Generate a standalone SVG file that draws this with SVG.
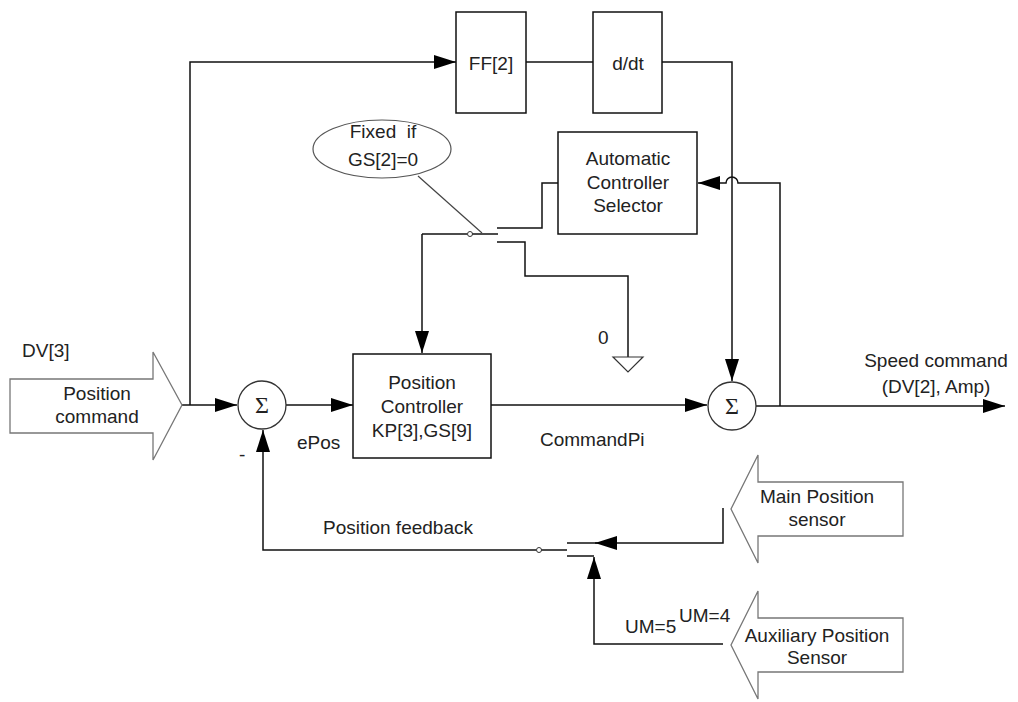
<svg xmlns="http://www.w3.org/2000/svg" width="1018" height="702" viewBox="0 0 1018 702">
<defs>
<style>
.box{fill:#fff;stroke:#111;stroke-width:1.5}
.big{fill:#fff;stroke:#777;stroke-width:1.3}
.ln{fill:none;stroke:#111;stroke-width:1.5}
.thin{fill:none;stroke:#444;stroke-width:1.2}
.t{font-family:"Liberation Sans",Arial,sans-serif;font-size:19px;fill:#222}
.m{text-anchor:middle}
.sig{font-family:"Liberation Serif","DejaVu Serif",serif;font-size:24px;fill:#222;text-anchor:middle}
</style>
<marker id="ah" markerUnits="userSpaceOnUse" markerWidth="22" markerHeight="14" refX="22" refY="7" orient="auto">
<path d="M0,0 L22,7 L0,14 Z" fill="#000"/>
</marker>
</defs>
<rect width="1018" height="702" fill="#fff"/>

<g id="connectors">
<path class="ln" d="M182,405 H237" marker-end="url(#ah)"/>
<path class="ln" d="M190,405 V62 H456" marker-end="url(#ah)"/>
<path class="ln" d="M526,62 H593"/>
<path class="ln" d="M662,62 H732 V381" marker-end="url(#ah)"/>
<path class="ln" d="M286,405 H353" marker-end="url(#ah)"/>
<path class="ln" d="M491,405 H707" marker-end="url(#ah)"/>
<path class="ln" d="M756,406 H1005" marker-end="url(#ah)"/>
<path class="ln" d="M780,406 V183 H738 A6,6 0 0 0 726,183 H698" marker-end="url(#ah)"/>
<path class="ln" d="M558,183 H542 V228 H497"/>
<path class="ln" d="M422,234 V353" marker-end="url(#ah)"/>
<path class="ln" d="M422,234 H467.5"/>
<circle cx="470" cy="234" r="2.5" fill="#fff" stroke="#333" stroke-width="1"/>
<path class="ln" d="M472.5,234 H498"/>
<path class="ln" d="M497,242 H525 V276 H628 V357"/>
<path d="M613,357 H643 L628,372 Z" fill="#fff" stroke="#333" stroke-width="1.2"/>
<path class="thin" d="M418,176 L482,233"/>
<path class="ln" d="M536.5,550 H263 V430" marker-end="url(#ah)"/>
<circle cx="539" cy="550" r="2.5" fill="#fff" stroke="#333" stroke-width="1"/>
<path class="ln" d="M541.5,550 H567"/>
<path class="ln" d="M723,508 V543 H595" marker-end="url(#ah)"/>
<path class="ln" d="M597,543 H567"/>
<path class="ln" d="M567,556 H594"/>
<path class="ln" d="M723,644 H594 V557" marker-end="url(#ah)"/>
</g>

<g id="position-command">
<polygon class="big" points="10,379 153,379 153,352 182,405 153,460 153,433 10,433"/>
<text class="t m" x="97" y="400">Position</text>
<text class="t m" x="97" y="423">command</text>
</g>
<g id="dv3-label"><text class="t" x="22" y="357">DV[3]</text></g>

<g id="sum1">
<circle cx="262" cy="405" r="24" fill="#fff" stroke="#333" stroke-width="1.3"/>
<text class="sig" x="262" y="413">Σ</text>
</g>
<g id="epos-label"><text class="t" x="297" y="449">ePos</text><text class="t" x="239" y="461">-</text></g>

<g id="ff2">
<rect class="box" x="456" y="12" width="70" height="101"/>
<text class="t m" x="491" y="70">FF[2]</text>
</g>
<g id="ddt">
<rect class="box" x="593" y="12" width="69" height="101"/>
<text class="t m" x="628" y="70">d/dt</text>
</g>

<g id="fixed-note">
<ellipse cx="382" cy="149" rx="69" ry="29" fill="#fff" stroke="#555" stroke-width="1.2"/>
<text class="t m" x="383" y="138" xml:space="preserve">Fixed  if</text>
<text class="t m" x="383" y="166">GS[2]=0</text>
</g>

<g id="acs">
<rect class="box" x="558" y="132" width="139" height="102"/>
<text class="t m" x="628" y="165">Automatic</text>
<text class="t m" x="628" y="189">Controller</text>
<text class="t m" x="628" y="212">Selector</text>
</g>

<g id="zero-label"><text class="t" x="598" y="344">0</text></g>

<g id="position-controller">
<rect class="box" x="353" y="354" width="138" height="104"/>
<text class="t m" x="422" y="389">Position</text>
<text class="t m" x="422" y="413">Controller</text>
<text class="t m" x="422" y="437">KP[3],GS[9]</text>
</g>
<g id="commandpi-label"><text class="t" x="540" y="446">CommandPi</text></g>

<g id="sum2">
<circle cx="732" cy="406" r="24" fill="#fff" stroke="#333" stroke-width="1.3"/>
<text class="sig" x="732" y="414">Σ</text>
</g>

<g id="speed-label">
<text class="t m" x="936" y="367">Speed command</text>
<text class="t m" x="936" y="393">(DV[2], Amp)</text>
</g>

<g id="feedback-label"><text class="t" x="323" y="534">Position feedback</text></g>

<g id="main-sensor">
<polygon class="big" points="903,482 758,482 758,455 731,509 758,563 758,536 903,536"/>
<text class="t m" x="817" y="503">Main Position</text>
<text class="t m" x="817" y="526">sensor</text>
</g>

<g id="aux-sensor">
<polygon class="big" points="903,618 758,618 758,591 731,645 758,699 758,672 903,672"/>
<text class="t m" x="817" y="642">Auxiliary Position</text>
<text class="t m" x="817" y="664">Sensor</text>
</g>

<g id="um-labels">
<text class="t" x="625" y="633">UM=5</text>
<text class="t" x="679" y="622">UM=4</text>
</g>
</svg>
